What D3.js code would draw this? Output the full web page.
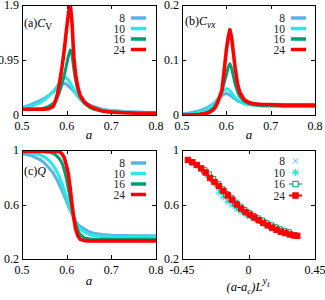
<!DOCTYPE html>
<html>
<head>
<meta charset="utf-8">
<script src="https://cdn.jsdelivr.net/npm/d3@7/dist/d3.min.js"></script>
<style>
  html, body { margin: 0; padding: 0; background: #fff; }
  svg { display: block; }
</style>
</head>
<body>
<div id="chart"></div>
<script>
// system sizes shown in every legend
var sizes = ["8", "10", "16", "24"];

// coupling a, shared by panels (a), (b), (c)
var aGrid = [0.50, 0.52, 0.54, 0.55, 0.56, 0.57, 0.575, 0.58, 0.585, 0.59, 0.595, 0.60,
  0.604, 0.608, 0.612, 0.616, 0.62, 0.625, 0.63, 0.64, 0.65, 0.66, 0.68, 0.70, 0.73, 0.76, 0.80];

// (a) C_V
var cvL8 = [0.13, 0.18, 0.25, 0.29, 0.34, 0.40, 0.43, 0.46, 0.50, 0.53, 0.55, 0.53,
  0.50, 0.47, 0.44, 0.41, 0.37, 0.33, 0.29, 0.23, 0.18, 0.15, 0.10, 0.08, 0.06, 0.05, 0.04];
var cvL10 = [0.12, 0.15, 0.21, 0.26, 0.33, 0.41, 0.46, 0.51, 0.56, 0.61, 0.65, 0.64,
  0.60, 0.55, 0.50, 0.44, 0.38, 0.32, 0.27, 0.20, 0.16, 0.13, 0.09, 0.07, 0.05, 0.04, 0.03];
var cvL16 = [0.10, 0.10, 0.11, 0.12, 0.15, 0.20, 0.25, 0.32, 0.42, 0.55, 0.70, 0.88,
  1.02, 1.12, 1.05, 0.80, 0.60, 0.43, 0.32, 0.20, 0.14, 0.10, 0.07, 0.05, 0.04, 0.03, 0.03];
var cvL24 = [0.10, 0.10, 0.10, 0.10, 0.11, 0.15, 0.24, 0.38, 0.60, 0.85, 1.15, 1.50,
  1.75, 1.92, 1.60, 1.00, 0.70, 0.48, 0.34, 0.22, 0.16, 0.12, 0.07, 0.05, 0.04, 0.03, 0.03];

// (b) C_vx
var cvxL8 = [0.002, 0.004, 0.008, 0.011, 0.015, 0.020, 0.024, 0.028, 0.032, 0.035, 0.038, 0.039,
  0.038, 0.036, 0.034, 0.031, 0.029, 0.026, 0.024, 0.021, 0.019, 0.018, 0.018, 0.018, 0.018, 0.018, 0.018];
var cvxL10 = [0.001, 0.002, 0.005, 0.008, 0.012, 0.019, 0.023, 0.028, 0.034, 0.040, 0.045, 0.048,
  0.047, 0.044, 0.040, 0.036, 0.032, 0.028, 0.025, 0.021, 0.019, 0.018, 0.017, 0.017, 0.017, 0.017, 0.017];
var cvxL16 = [0.000, 0.001, 0.002, 0.003, 0.006, 0.012, 0.017, 0.024, 0.033, 0.044, 0.058, 0.073,
  0.086, 0.093, 0.085, 0.070, 0.056, 0.043, 0.034, 0.025, 0.021, 0.019, 0.017, 0.017, 0.016, 0.016, 0.016];
var cvxL24 = [0.000, 0.000, 0.001, 0.002, 0.004, 0.009, 0.014, 0.022, 0.033, 0.045, 0.080, 0.118,
  0.140, 0.155, 0.140, 0.112, 0.085, 0.058, 0.042, 0.028, 0.023, 0.021, 0.019, 0.019, 0.018, 0.018, 0.018];

// (c) Q
var qL8 = [0.975, 0.96, 0.93, 0.905, 0.87, 0.83, 0.80, 0.77, 0.735, 0.70, 0.66, 0.62,
  0.585, 0.555, 0.53, 0.50, 0.475, 0.455, 0.44, 0.42, 0.40, 0.39, 0.38, 0.375, 0.372, 0.37, 0.37];
var qL10 = [0.99, 0.98, 0.965, 0.95, 0.925, 0.885, 0.86, 0.83, 0.79, 0.75, 0.70, 0.65,
  0.61, 0.57, 0.53, 0.50, 0.47, 0.44, 0.42, 0.395, 0.38, 0.372, 0.365, 0.362, 0.36, 0.36, 0.36];
var qL16 = [0.99, 0.99, 0.99, 0.988, 0.985, 0.975, 0.965, 0.95, 0.93, 0.90, 0.85, 0.78,
  0.71, 0.64, 0.57, 0.51, 0.46, 0.41, 0.38, 0.355, 0.348, 0.345, 0.345, 0.345, 0.345, 0.345, 0.345];
var qL24 = [0.99, 0.99, 0.99, 0.99, 0.99, 0.99, 0.99, 0.988, 0.985, 0.97, 0.94, 0.88,
  0.82, 0.72, 0.60, 0.50, 0.42, 0.37, 0.345, 0.335, 0.333, 0.333, 0.333, 0.333, 0.333, 0.333, 0.333];

// (d) Q against the scaled coupling (a-a_c)L^{y_t}
var scaledX8 = [-0.17, -0.14, -0.11, -0.08, -0.05, -0.02, 0.01, 0.04, 0.07, 0.10, 0.13, 0.16];
var scaledQ8 = [0.665, 0.63, 0.60, 0.575, 0.555, 0.535, 0.518, 0.50, 0.485, 0.47, 0.455, 0.44];
var scaledX10 = [-0.20, -0.17, -0.14, -0.11, -0.08, -0.05, -0.02, 0.01, 0.04, 0.07, 0.10, 0.13, 0.16, 0.19, 0.22];
var scaledQ10 = [0.69, 0.655, 0.62, 0.595, 0.57, 0.55, 0.53, 0.515, 0.50, 0.488, 0.474, 0.46, 0.445, 0.432, 0.42];
var scaledX16 = [-0.30, -0.27, -0.24, -0.21, -0.18, -0.15, -0.12, -0.09, -0.06, -0.03, 0.00,
  0.03, 0.06, 0.09, 0.12, 0.15, 0.18, 0.21, 0.24, 0.27];
var scaledQ16 = [0.85, 0.82, 0.785, 0.75, 0.71, 0.675, 0.645, 0.612, 0.583, 0.558, 0.537,
  0.515, 0.497, 0.48, 0.462, 0.445, 0.43, 0.415, 0.405, 0.395];
var scaledX24 = [-0.41, -0.38, -0.35, -0.32, -0.29, -0.26, -0.23, -0.20, -0.17, -0.14, -0.11, -0.08, -0.05,
  -0.02, 0.01, 0.04, 0.07, 0.10, 0.13, 0.16, 0.19, 0.22, 0.25, 0.28, 0.31, 0.33];
var scaledQ24 = [0.927, 0.91, 0.89, 0.865, 0.835, 0.795, 0.765, 0.735, 0.70, 0.667, 0.635, 0.60, 0.57,
  0.545, 0.525, 0.505, 0.485, 0.465, 0.447, 0.43, 0.414, 0.40, 0.39, 0.38, 0.373, 0.37];

var aTicks = [0.5, 0.6, 0.7, 0.8];
var dTicks = [-0.45, 0, 0.45];
var cvTicks = [0, 0.95, 1.9];
var cvxTicks = [0, 0.1, 0.2];
var qTicks = [0.2, 0.6, 1];

(function () {
  var W = 325, H = 300;
  var serif = "'Liberation Serif', 'DejaVu Serif', serif";
  var colors = ["#56b4e9", "#2ae8e8", "#009e73", "#ff0000"];

  var svg = d3.select("#chart").append("svg")
    .attr("width", W)
    .attr("height", H)
    .attr("viewBox", "0 0 " + W + " " + H);

  function zip(xs, ys) {
    return xs.map(function (x, i) { return [x, ys[i]]; });
  }

  function makePanel(cfg) {
    var x = d3.scaleLinear().domain(cfg.xDomain).range([cfg.left, cfg.right]);
    var y = d3.scaleLinear().domain(cfg.yDomain).range([cfg.bottom, cfg.top]);
    var g = svg.append("g");

    g.append("clipPath")
      .attr("id", "clip-" + cfg.id)
      .append("rect")
      .attr("x", cfg.left)
      .attr("y", cfg.top)
      .attr("width", cfg.right - cfg.left)
      .attr("height", cfg.bottom - cfg.top);

    // inward ticks, mirrored like gnuplot
    var tl = 4;
    var ticks = g.append("g")
      .attr("stroke", "#000")
      .attr("stroke-width", 1);
    cfg.xTicks.forEach(function (t) {
      var px = Math.round(x(t)) + 0.5;
      ticks.append("line").attr("x1", px).attr("x2", px).attr("y1", cfg.bottom).attr("y2", cfg.bottom - tl);
      ticks.append("line").attr("x1", px).attr("x2", px).attr("y1", cfg.top).attr("y2", cfg.top + tl);
    });
    cfg.yTicks.forEach(function (t) {
      var py = Math.round(y(t)) + 0.5;
      ticks.append("line").attr("x1", cfg.left).attr("x2", cfg.left + tl).attr("y1", py).attr("y2", py);
      ticks.append("line").attr("x1", cfg.right).attr("x2", cfg.right - tl).attr("y1", py).attr("y2", py);
    });

    g.append("g")
      .selectAll("text")
      .data(cfg.xTicks)
      .join("text")
      .attr("x", function (t) { return x(t); })
      .attr("y", cfg.bottom + 15)
      .attr("text-anchor", "middle")
      .attr("font-family", serif)
      .attr("font-size", 12)
      .text(function (t) { return String(t); });

    g.append("g")
      .selectAll("text")
      .data(cfg.yTicks)
      .join("text")
      .attr("x", cfg.left - 3)
      .attr("y", function (t) { return y(t); })
      .attr("dy", "0.35em")
      .attr("text-anchor", "end")
      .attr("font-family", serif)
      .attr("font-size", 12)
      .text(function (t) { return String(t); });

    var plot = g.append("g").attr("clip-path", "url(#clip-" + cfg.id + ")");

    g.append("rect")
      .attr("x", cfg.left + 0.5)
      .attr("y", cfg.top + 0.5)
      .attr("width", cfg.right - cfg.left)
      .attr("height", cfg.bottom - cfg.top)
      .attr("fill", "none")
      .attr("stroke", "#000")
      .attr("stroke-width", 1);

    return {x: x, y: y, g: g, plot: plot};
  }

  function drawCurves(p, series) {
    var line = d3.line()
      .x(function (d) { return p.x(d[0]); })
      .y(function (d) { return p.y(d[1]); });
    p.plot.selectAll("path.curve")
      .data(series)
      .join("path")
      .attr("class", "curve")
      .attr("d", function (s) { return line(zip(aGrid, s)); })
      .attr("fill", "none")
      .attr("stroke", function (s, i) { return colors[i]; })
      .attr("stroke-width", function (s, i) { return i === 3 ? 3.6 : 3; })
      .attr("stroke-linejoin", "round");
  }

  function lineLegend(p, top) {
    var rows = p.g.append("g");
    sizes.forEach(function (s, i) {
      var yy = top + 13 + i * 10.5;
      rows.append("text")
        .attr("x", p.labelRight)
        .attr("y", yy)
        .attr("dy", "0.35em")
        .attr("text-anchor", "end")
        .attr("font-family", serif)
        .attr("font-size", 11.5)
        .attr("fill", "#222")
        .text(s);
      rows.append("line")
        .attr("x1", p.labelRight + 6)
        .attr("x2", p.labelRight + 21)
        .attr("y1", yy)
        .attr("y2", yy)
        .attr("stroke", colors[i])
        .attr("stroke-width", 3.5);
    });
  }

  function title(p, tx, ty, prefix, main, sub, subItalic) {
    var t = p.g.append("text")
      .attr("x", tx)
      .attr("y", ty)
      .attr("font-family", serif)
      .attr("font-size", 12);
    t.append("tspan").text(prefix);
    t.append("tspan").attr("font-style", "italic").text(main);
    if (sub) {
      t.append("tspan")
        .attr("font-size", 9.5)
        .attr("dy", 3)
        .attr("font-style", subItalic ? "italic" : "normal")
        .text(sub);
    }
  }

  function aLabel(cx, by) {
    svg.append("text")
      .attr("x", cx)
      .attr("y", by)
      .attr("text-anchor", "middle")
      .attr("font-family", serif)
      .attr("font-size", 13)
      .attr("font-style", "italic")
      .text("a");
  }

  // (a) C_V
  var pa = makePanel({id: "a", left: 22, right: 156, top: 5, bottom: 115,
    xDomain: [0.5, 0.8], yDomain: [0, 1.9], xTicks: aTicks, yTicks: cvTicks});
  drawCurves(pa, [cvL8, cvL10, cvL16, cvL24]);
  pa.labelRight = 125;
  lineLegend(pa, 5);
  title(pa, 24, 27, "(a)", "C", "V", false);
  aLabel(89, 139);

  // (b) C_vx
  var pb = makePanel({id: "b", left: 182, right: 315, top: 5, bottom: 115,
    xDomain: [0.5, 0.8], yDomain: [0, 0.2], xTicks: aTicks, yTicks: cvxTicks});
  drawCurves(pb, [cvxL8, cvxL10, cvxL16, cvxL24]);
  pb.labelRight = 285;
  lineLegend(pb, 5);
  title(pb, 185, 25, "(b)", "C", "vx", true);
  aLabel(249, 139);

  // (c) Q
  var pc = makePanel({id: "c", left: 22, right: 156, top: 150, bottom: 259,
    xDomain: [0.5, 0.8], yDomain: [0.2, 1], xTicks: aTicks, yTicks: qTicks});
  drawCurves(pc, [qL8, qL10, qL16, qL24]);
  pc.labelRight = 125;
  lineLegend(pc, 150);
  title(pc, 24, 175, "(c)", "Q", null, false);
  aLabel(89, 285);

  // (d) scaling collapse of Q
  var pd = makePanel({id: "d", left: 182, right: 315, top: 150, bottom: 259,
    xDomain: [-0.45, 0.45], yDomain: [0.2, 1], xTicks: dTicks, yTicks: qTicks});

  var pts = [zip(scaledX8, scaledQ8), zip(scaledX10, scaledQ10), zip(scaledX16, scaledQ16), zip(scaledX24, scaledQ24)];
  var connect = d3.line()
    .x(function (d) { return pd.x(d[0]); })
    .y(function (d) { return pd.y(d[1]); });

  function marker(sel, kind, color) {
    var r = 2.7;
    if (kind === 0 || kind === 1) {
      sel.append("path")
        .attr("d", "M" + -r + "," + -r + "L" + r + "," + r + "M" + -r + "," + r + "L" + r + "," + -r +
          (kind === 1 ? "M0," + -r * 1.3 + "V" + r * 1.3 + "M" + -r * 1.3 + ",0H" + r * 1.3 : ""))
        .attr("stroke", color)
        .attr("stroke-width", 1)
        .attr("fill", "none");
    } else {
      sel.append("rect")
        .attr("x", -r)
        .attr("y", -r)
        .attr("width", r * 2)
        .attr("height", r * 2)
        .attr("fill", kind === 3 ? color : "#fff")
        .attr("stroke", color)
        .attr("stroke-width", 1);
    }
  }

  pts.forEach(function (set, i) {
    if (i >= 2) {
      pd.plot.append("path")
        .attr("d", connect(set))
        .attr("fill", "none")
        .attr("stroke", colors[i])
        .attr("stroke-width", i === 3 ? 2 : 1.2);
    }
    pd.plot.append("g")
      .selectAll("g")
      .data(set)
      .join("g")
      .attr("transform", function (d) { return "translate(" + pd.x(d[0]) + "," + pd.y(d[1]) + ")"; })
      .each(function () { marker(d3.select(this), i, colors[i]); });
  });

  sizes.forEach(function (s, i) {
    var yy = 150 + 11 + i * 11.5;
    pd.g.append("text")
      .attr("x", 285)
      .attr("y", yy)
      .attr("dy", "0.35em")
      .attr("text-anchor", "end")
      .attr("font-family", serif)
      .attr("font-size", 11.5)
      .attr("fill", "#222")
      .text(s);
    if (i >= 2) {
      pd.g.append("line")
        .attr("x1", 289)
        .attr("x2", 302)
        .attr("y1", yy)
        .attr("y2", yy)
        .attr("stroke", colors[i])
        .attr("stroke-width", i === 3 ? 2 : 1.2);
    }
    var mk = pd.g.append("g").attr("transform", "translate(295.5," + yy + ")");
    marker(mk, i, colors[i]);
  });

  var xl = svg.append("text")
    .attr("x", 248)
    .attr("y", 291)
    .attr("text-anchor", "middle")
    .attr("font-family", serif)
    .attr("font-size", 12.5)
    .attr("font-style", "italic");
  xl.append("tspan").text("(a-a");
  xl.append("tspan").attr("font-size", 9).attr("dy", 3).text("c");
  xl.append("tspan").attr("dy", -3).text(")L");
  xl.append("tspan").attr("font-size", 10.5).attr("dy", -7).text("y");
  xl.append("tspan").attr("font-size", 8.5).attr("dy", 3).text("t");
}());
</script>
</body>
</html>
